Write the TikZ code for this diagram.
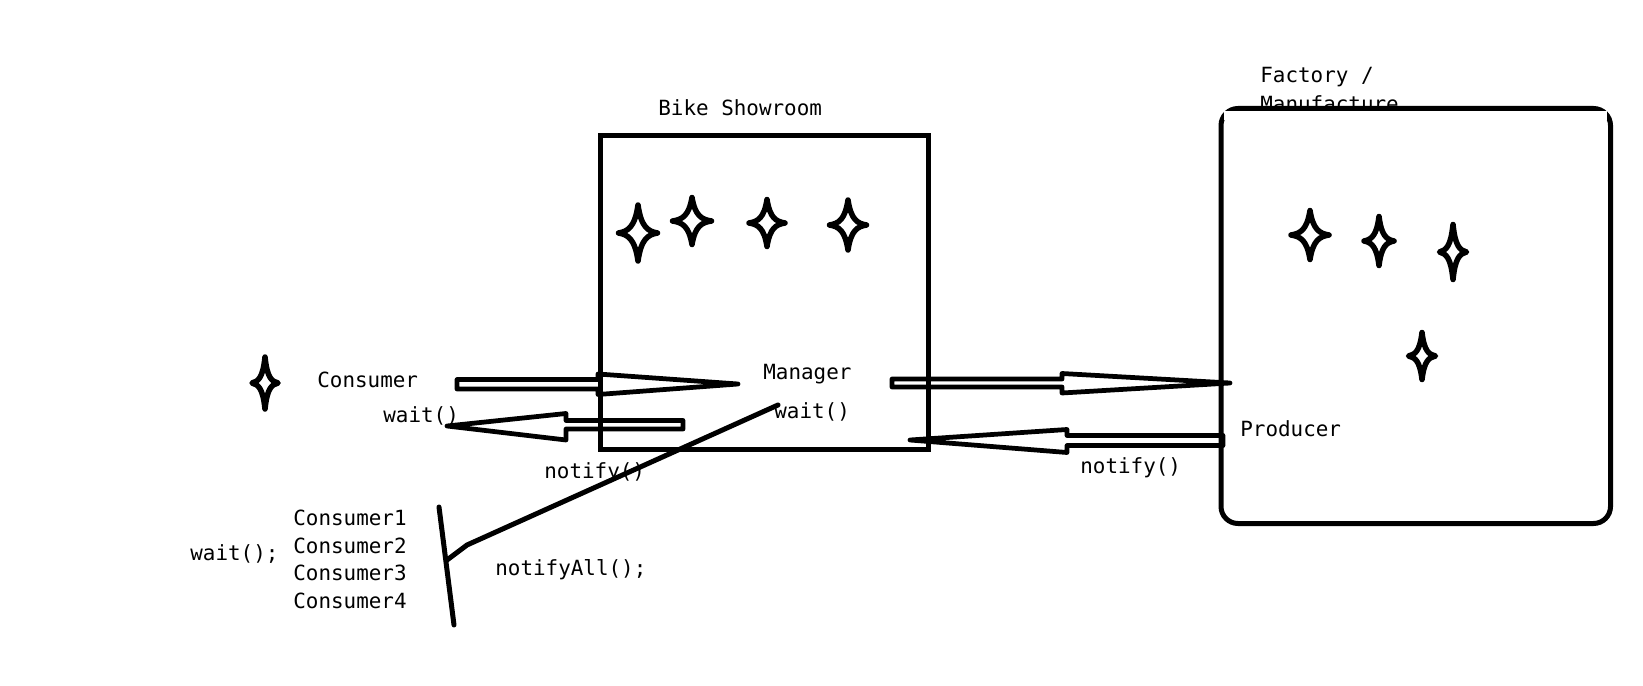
\documentclass[tikz,border=0pt]{standalone}
\usepackage{fontspec}
\newfontfamily\cmono{DejaVu Sans Mono}
\tikzset{
  pics/spark/.style 2 args={code={
    \draw[line width=0.11cm, line join=round]
      (0,-#2) .. controls (0.16*#1,-0.22*#2) and (0.5*#1,-0.06*#2) .. (#1,0)
      .. controls (0.5*#1,0.06*#2) and (0.16*#1,0.22*#2) .. (0,#2)
      .. controls (-0.16*#1,0.22*#2) and (-0.5*#1,0.06*#2) .. (-#1,0)
      .. controls (-0.5*#1,-0.06*#2) and (-0.16*#1,-0.22*#2) .. (0,-#2) -- cycle;
  }},
  lbl/.style={anchor=base west, inner sep=0pt, font=\cmono\fontsize{11.9}{14}\selectfont},
  boxline/.style={line width=0.1cm},
  blk/.style={line width=0.095cm, line join=round},
  stroke/.style={line width=0.1cm, line cap=round, line join=round}
}
\begin{document}
\begin{tikzpicture}[x=0.02cm,y=-0.02cm]
\useasboundingbox[fill=white] (0,0) rectangle (1643,686);

% titles
\node[lbl] (showroomtitle) at (658,115) {Bike Showroom};
\node[lbl] (factorytitle) at (1260,83) {Factory /};
\node[lbl] (manufacture) at (1260,112) {Manufacture};

% boxes
\draw[boxline] (600.5,135.5) rectangle (928,449);
\draw[boxline, rounded corners=0.34cm, fill=white] (1221,108.5) rectangle (1610.5,523.5);
\fill[white] (1224,111) rectangle (1607,120);

% stars in showroom
\pic at (638,233) {spark={19.5}{28}};
\pic at (692,221) {spark={19.5}{23.5}};
\pic at (767,223) {spark={18}{23.5}};
\pic at (848,225) {spark={18.5}{25}};
% stars in factory
\pic at (1310,235) {spark={19}{24.5}};
\pic at (1379,241) {spark={15}{24.5}};
\pic at (1453,252) {spark={13.5}{27.5}};
\pic at (1422,356) {spark={13.5}{23.5}};
% consumer star
\pic at (265,383) {spark={13}{26}};

% texts
\node[lbl] (consumer) at (317,387) {Consumer};
\node[lbl] (cwait) at (383,422) {wait()};
\node[lbl] (lnotify) at (544,478) {notify()};
\node[lbl] (manager) at (763,379) {Manager};
\node[lbl] (mwait) at (774,418) {wait()};
\node[lbl] (producer) at (1240,436) {Producer};
\node[lbl] (rnotify) at (1080,473) {notify()};
\node[lbl] (c1) at (293,525) {Consumer1};
\node[lbl] (c2) at (293,553) {Consumer2};
\node[lbl] (c3) at (293,580) {Consumer3};
\node[lbl] (c4) at (293,608) {Consumer4};
\node[lbl] (waitall) at (190,560) {wait();};
\node[lbl] (notifyall) at (495,575) {notifyAll();};

% block arrows
\coordinate (a1tail) at (457,384);
\coordinate (a1tip) at (738,384);
\draw[blk] (457,379.5) -- (598,379.5) -- (598,374) -- (a1tip) -- (598,394.5) -- (598,389) -- (457,389) -- cycle;

\coordinate (a2tail) at (683,425);
\coordinate (a2tip) at (447,426);
\draw[blk] (683,420.5) -- (566,420.5) -- (566,413.5) -- (a2tip) -- (566,440) -- (566,429) -- (683,429) -- cycle;

\coordinate (a3tail) at (892,383);
\coordinate (a3tip) at (1230,383);
\draw[blk] (892,379) -- (1062,379) -- (1062,373.5) -- (a3tip) -- (1062,393) -- (1062,387) -- (892,387) -- cycle;

\coordinate (a4tail) at (1223,440);
\coordinate (a4tip) at (910,440);
\draw[blk] (1223,435.5) -- (1067,435.5) -- (1067,429.5) -- (a4tip) -- (1067,452.5) -- (1067,445.5) -- (1223,445.5) -- cycle;

% notifyAll line and bar
\coordinate (d1) at (778,405);
\coordinate (d2) at (467,545);
\coordinate (d3) at (447,560);
\coordinate (b1) at (439,507);
\coordinate (b2) at (454,625);
\draw[stroke] (d1) -- (d2) -- (d3);
\draw[stroke] (b1) -- (b2);
\end{tikzpicture}
\end{document}
